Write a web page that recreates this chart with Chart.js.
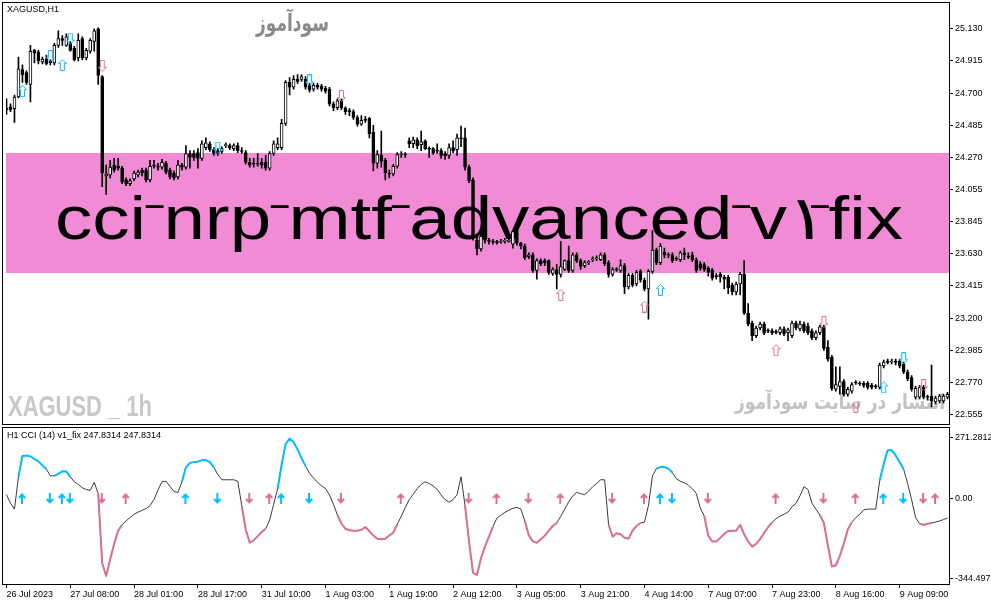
<!DOCTYPE html>
<html><head><meta charset="utf-8">
<script src="https://cdn.jsdelivr.net/npm/chart.js"></script>
<style>
html,body{margin:0;padding:0;background:#fff;width:991px;height:605px;overflow:hidden}
canvas{position:absolute;left:0}
#c1{top:0}
#c2{top:425px}
</style></head><body>
<canvas id="c1" width="991" height="425"></canvas>
<canvas id="c2" width="991" height="180"></canvas>
<script>
// ---------------- DATA ----------------
const opens = [
24.603,24.610,24.597,24.675,24.857,24.837,24.759,24.986,24.974,24.909,
24.928,24.915,24.902,25.019,25.065,25.019,25.032,24.999,24.935,25.065,
24.935,24.980,25.045,25.130,24.811,24.148,24.155,24.220,24.213,24.200,
24.122,24.096,24.129,24.155,24.187,24.187,24.122,24.220,24.213,24.207,
24.233,24.187,24.168,24.142,24.220,24.207,24.298,24.298,24.304,24.265,
24.337,24.363,24.324,24.317,24.311,24.350,24.350,24.330,24.350,24.317,
24.304,24.239,24.233,24.233,24.239,24.239,24.200,24.298,24.337,24.337,
24.499,24.772,24.740,24.792,24.792,24.792,24.753,24.727,24.753,24.746,
24.733,24.727,24.629,24.603,24.655,24.603,24.584,24.577,24.538,24.493,
24.528,24.532,24.441,24.233,24.285,24.252,24.168,24.161,24.213,24.291,
24.292,24.382,24.363,24.389,24.356,24.382,24.330,24.330,24.317,24.317,
24.298,24.285,24.337,24.324,24.402,24.402,24.207,24.122,23.719,23.661,
23.725,23.719,23.712,23.706,23.706,23.712,23.712,23.693,23.784,23.699,
23.680,23.609,23.622,23.518,23.583,23.583,23.583,23.498,23.524,23.492,
23.524,23.583,23.518,23.622,23.583,23.550,23.570,23.589,23.596,23.589,
23.622,23.570,23.492,23.524,23.518,23.550,23.407,23.485,23.427,23.511,
23.453,23.394,23.511,23.654,23.570,23.641,23.622,23.622,23.596,23.589,
23.635,23.609,23.622,23.589,23.563,23.557,23.531,23.518,23.479,23.492,
23.472,23.472,23.420,23.375,23.427,23.492,23.232,23.167,23.082,23.134,
23.160,23.115,23.115,23.108,23.102,23.128,23.102,23.082,23.167,23.128,
23.160,23.147,23.115,23.069,23.102,23.141,23.004,22.939,22.725,22.744,
22.777,22.692,22.712,22.770,22.764,22.764,22.764,22.751,22.744,22.738,
22.881,22.907,22.907,22.907,22.913,22.894,22.841,22.803,22.673,22.673,
22.738,22.673,22.679,22.640,22.647,22.647,22.673];
const highs = [
24.662,24.629,24.688,24.941,24.889,24.850,25.019,24.993,24.986,24.941,
24.954,24.922,25.032,25.117,25.084,25.097,25.045,25.012,25.097,25.077,
24.999,25.065,25.130,25.136,24.818,24.220,24.252,24.265,24.265,24.213,
24.135,24.129,24.181,24.187,24.200,24.200,24.252,24.252,24.233,24.259,
24.246,24.200,24.181,24.252,24.233,24.350,24.317,24.317,24.330,24.382,
24.402,24.376,24.337,24.330,24.343,24.369,24.363,24.363,24.369,24.337,
24.317,24.265,24.265,24.298,24.265,24.285,24.311,24.382,24.402,24.525,
24.785,24.805,24.818,24.824,24.824,24.811,24.766,24.766,24.766,24.759,
24.746,24.740,24.642,24.662,24.662,24.610,24.597,24.590,24.551,24.551,
24.545,24.538,24.486,24.317,24.447,24.265,24.187,24.226,24.304,24.311,
24.304,24.402,24.408,24.402,24.447,24.389,24.343,24.337,24.363,24.330,
24.311,24.363,24.382,24.428,24.480,24.467,24.220,24.135,23.758,23.771,
23.732,23.732,23.725,23.719,23.725,23.732,23.739,23.784,23.790,23.706,
23.693,23.635,23.635,23.596,23.596,23.596,23.589,23.537,23.557,23.712,
23.589,23.680,23.635,23.635,23.596,23.583,23.583,23.609,23.615,23.635,
23.635,23.583,23.537,23.537,23.589,23.563,23.498,23.498,23.518,23.524,
23.466,23.524,23.784,23.667,23.699,23.667,23.635,23.635,23.609,23.647,
23.667,23.635,23.641,23.602,23.576,23.570,23.544,23.531,23.498,23.505,
23.485,23.485,23.433,23.440,23.505,23.583,23.297,23.180,23.147,23.173,
23.173,23.128,23.128,23.121,23.141,23.141,23.134,23.180,23.180,23.180,
23.173,23.167,23.128,23.115,23.154,23.154,23.050,22.952,22.874,22.874,
22.790,22.738,22.770,22.783,22.777,22.777,22.777,22.764,22.757,22.900,
22.920,22.926,22.926,22.926,22.926,22.907,22.854,22.816,22.744,22.751,
22.751,22.686,22.887,22.679,22.692,22.692,22.705];
const lows = [
24.558,24.577,24.506,24.668,24.772,24.759,24.642,24.902,24.896,24.896,
24.889,24.889,24.889,25.006,25.019,25.012,24.980,24.915,24.915,24.922,
24.922,24.967,24.980,24.759,24.077,24.025,24.135,24.174,24.187,24.096,
24.083,24.083,24.116,24.142,24.148,24.109,24.109,24.200,24.187,24.194,
24.161,24.129,24.122,24.129,24.187,24.194,24.200,24.252,24.200,24.252,
24.324,24.311,24.285,24.285,24.298,24.337,24.324,24.317,24.304,24.298,
24.226,24.207,24.207,24.213,24.200,24.187,24.187,24.285,24.324,24.324,
24.486,24.688,24.727,24.766,24.779,24.727,24.707,24.714,24.727,24.714,
24.701,24.616,24.584,24.590,24.590,24.558,24.551,24.525,24.480,24.486,
24.506,24.402,24.181,24.200,24.207,24.122,24.135,24.148,24.200,24.272,
24.272,24.337,24.337,24.330,24.317,24.324,24.272,24.291,24.298,24.265,
24.259,24.265,24.304,24.285,24.343,24.187,24.103,23.719,23.622,23.647,
23.699,23.693,23.693,23.693,23.699,23.699,23.706,23.667,23.687,23.661,
23.589,23.596,23.505,23.459,23.550,23.550,23.492,23.485,23.394,23.472,
23.518,23.505,23.505,23.570,23.524,23.537,23.557,23.576,23.583,23.583,
23.550,23.472,23.479,23.511,23.505,23.362,23.394,23.407,23.414,23.440,
23.381,23.193,23.498,23.557,23.557,23.602,23.602,23.570,23.583,23.576,
23.589,23.596,23.576,23.505,23.518,23.511,23.479,23.453,23.459,23.440,
23.394,23.362,23.355,23.355,23.355,23.225,23.147,23.050,23.069,23.121,
23.089,23.102,23.089,23.095,23.089,23.082,23.050,23.069,23.121,23.115,
23.102,23.089,23.056,23.056,23.089,22.985,22.913,22.718,22.712,22.692,
22.679,22.679,22.699,22.757,22.751,22.738,22.725,22.725,22.731,22.725,
22.867,22.894,22.894,22.887,22.867,22.829,22.783,22.712,22.660,22.660,
22.660,22.653,22.607,22.627,22.634,22.634,22.660];
const closes = [
24.590,24.590,24.675,24.863,24.824,24.772,24.980,24.967,24.915,24.928,
24.896,24.902,25.019,25.065,25.052,25.077,24.986,24.922,25.052,24.935,
24.986,25.052,25.117,24.818,24.168,24.161,24.207,24.187,24.200,24.109,
24.096,24.116,24.168,24.174,24.168,24.122,24.213,24.213,24.207,24.239,
24.174,24.142,24.135,24.220,24.207,24.298,24.272,24.272,24.265,24.363,
24.369,24.324,24.298,24.298,24.330,24.356,24.337,24.350,24.317,24.311,
24.239,24.220,24.226,24.226,24.220,24.200,24.298,24.363,24.363,24.499,
24.772,24.740,24.792,24.779,24.811,24.740,24.720,24.753,24.740,24.727,
24.714,24.629,24.603,24.649,24.603,24.577,24.577,24.538,24.493,24.519,
24.518,24.428,24.233,24.291,24.246,24.168,24.161,24.213,24.291,24.298,
24.288,24.363,24.389,24.350,24.376,24.330,24.326,24.304,24.313,24.285,
24.284,24.337,24.317,24.402,24.395,24.207,24.116,23.745,23.661,23.745,
23.719,23.712,23.706,23.703,23.712,23.716,23.719,23.777,23.699,23.680,
23.602,23.622,23.518,23.583,23.563,23.570,23.505,23.524,23.492,23.544,
23.583,23.518,23.622,23.583,23.544,23.570,23.573,23.592,23.599,23.622,
23.563,23.492,23.524,23.521,23.550,23.407,23.485,23.420,23.505,23.453,
23.394,23.511,23.654,23.570,23.680,23.622,23.619,23.583,23.593,23.635,
23.622,23.606,23.589,23.518,23.531,23.524,23.505,23.466,23.476,23.472,
23.459,23.401,23.375,23.427,23.492,23.232,23.160,23.082,23.134,23.160,
23.102,23.112,23.102,23.105,23.128,23.095,23.121,23.167,23.134,23.160,
23.115,23.102,23.069,23.102,23.141,22.998,22.926,22.731,22.757,22.777,
22.692,22.725,22.757,22.767,22.760,22.751,22.738,22.738,22.741,22.887,
22.907,22.904,22.910,22.904,22.881,22.841,22.796,22.725,22.731,22.738,
22.673,22.670,22.647,22.666,22.679,22.679,22.692];

const cci = [
15,-19,-43,87,171,173,169,159,149,133,
118,91,91,99,109,108,87,67,56,43,
36,32,65,19,-260,-312,-246,-183,-130,-106,
-90,-77,-64,-55,-48,-41,-29,-4,34,67,
69,48,28,24,67,125,143,146,148,154,
154,146,125,96,75,75,75,75,69,-29,
-125,-178,-169,-152,-135,-122,-87,-24,39,135,
218,241,226,197,162,130,101,82,65,51,
40,14,-24,-67,-101,-122,-128,-130,-130,-126,
-115,-132,-149,-162,-164,-162,-149,-139,-104,-72,
-37,-5,17,39,56,67,60,50,37,14,
-5,-15,-5,15,87,-29,-173,-300,-308,-241,
-193,-154,-114,-79,-67,-56,-48,-40,-36,-43,
-91,-149,-173,-178,-164,-150,-130,-111,-99,-72,
-43,-14,10,24,19,15,29,47,60,75,
75,-106,-154,-140,-144,-158,-162,-130,-111,-99,
-96,-29,91,120,126,126,120,104,79,69,
63,53,39,20,-39,-71,-150,-173,-173,-159,
-143,-131,-130,-130,-106,-144,-173,-194,-183,-164,
-139,-116,-96,-82,-71,-64,-55,-34,-20,10,
47,36,-19,-43,-67,-99,-190,-274,-269,-231,
-182,-125,-96,-77,-64,-46,-43,-43,-43,72,
139,194,194,173,146,118,60,-5,-77,-101,
-107,-102,-99,-95,-91,-85,-79];

const blueRanges = [[3,10],[12,16],[44,52],[68,75],[163,167],[219,225]];
const pinkRanges = [[23,29],[59,65],[83,98],[115,122],[130,138],[151,159],[175,192],[204,212],[229,232]];

// signal arrows in the CCI window (drawn on the zero level)
const cciUpBlue = [4,14,45,69,164,220];
const cciDownBlue = [11,16,53,76,167,225];
const cciUpPink = [30,66,99,123,139,160,193,213,233];
const cciDownPink = [24,61,84,116,131,152,176,205,230];

// hollow arrows on the price chart (visible ones)
const topUpBlueIdx = [4,14,164,220];
const topUpBluePrice = [24.714,24.889,23.388,22.738];
const topDownBlueIdx = [11,16,53,76,225];
const topDownBluePrice = [24.948,25.065,24.337,24.785,22.932];
const topDownPinkIdx = [24,84,205,230];
const topDownPinkPrice = [24.883,24.681,23.173,22.751];
const topUpPinkIdx = [139,160,193,213];
const topUpPinkPrice = [23.355,23.277,22.985,22.608];

const priceTicks = [25.130,24.915,24.700,24.485,24.270,24.055,23.845,23.630,23.415,23.200,22.985,22.770,22.555];
const priceTickLabels = ['25.130','24.915','24.700','24.485','24.270','24.055','23.845','23.630','23.415','23.200','22.985','22.770','22.555'];
const dateTickIdx = [0,16,32,48,64,80,96,112,128,144,160,176,192,208,224];
const dateLabels = ['26 Jul 2023','27 Jul 08:00','28 Jul 01:00','28 Jul 17:00','31 Jul 10:00','1 Aug 03:00','1 Aug 19:00','2 Aug 12:00','3 Aug 05:00','3 Aug 21:00','4 Aug 14:00','7 Aug 07:00','7 Aug 23:00','8 Aug 16:00','9 Aug 09:00'];
const cciAxisValues = [271.2812, 0, -344.497];
const cciAxisLabels = ['271.2812','0.00','-344.497'];

const bandTop = 24.304, bandBottom = 23.498;
const bigTitle = 'cci¯nrp¯mtf¯advanced¯v١¯fix';
const chartTitle = 'XAGUSD,H1';
const cciTitle = 'H1 CCI (14) v1_fix 247.8314 247.8314';
const wmTop = 'سودآموز';
const wmLeft = 'XAGUSD _ 1h';
const wmRight = 'انتشار در سایت سودآموز';

// ---------------- SETUP ----------------
const xMin = -0.125, xMax = 236.375;
const priceMin = 22.536, priceMax = 25.2725;
const cciMin = -344.497, cciMax = 271.2812;
const BLUE = '#00BFFF', PINK = '#DB7093';
const AXFONT = '"Liberation Sans", Arial, sans-serif';

Chart.defaults.font.family = AXFONT;
Chart.defaults.font.size = 9;
Chart.defaults.color = '#000';

function hollowArrow(color, up) {
  const c = document.createElement('canvas'); c.width = 9; c.height = 12;
  const g = c.getContext('2d');
  g.strokeStyle = color; g.lineWidth = 1;
  const pts = [[4.5,0.5],[8.5,4.5],[6.5,4.5],[6.5,11.5],[2.5,11.5],[2.5,4.5],[0.5,4.5]];
  g.beginPath();
  pts.forEach(([x,y],k) => { const yy = up ? y : 12 - y; if (k) g.lineTo(x,yy); else g.moveTo(x,yy); });
  g.closePath(); g.stroke();
  return c;
}
function solidArrow(color, up) {
  const c = document.createElement('canvas'); c.width = 9; c.height = 11;
  const g = c.getContext('2d');
  g.strokeStyle = color; g.lineWidth = 2; g.lineCap = 'butt';
  const f = y => up ? y : 11 - y;
  g.beginPath();
  g.moveTo(4, f(1.5)); g.lineTo(4, f(11));
  g.moveTo(0.8, f(5)); g.lineTo(4, f(1.5)); g.lineTo(7.2, f(5));
  g.stroke();
  return c;
}
function pointSet(idx, vals, img) {
  return { type: 'line', data: idx.map((v,k) => ({x: v, y: vals[k]})), showLine: false,
           pointStyle: img, pointRadius: 5, order: 1 };
}
function fitText(ctx, text, x, y, w, font, color) {
  ctx.save();
  ctx.font = font;
  const m = ctx.measureText(text).width;
  ctx.translate(x, y); ctx.scale(w / m, 1);
  ctx.fillStyle = color; ctx.textAlign = 'left'; ctx.textBaseline = 'alphabetic';
  ctx.fillText(text, 0, 0);
  ctx.restore();
}
function drawBigText(ctx, text, x0, baseline, targetW, size) {
  ctx.save();
  ctx.font = size + 'px "Liberation Sans", Arial, sans-serif';
  ctx.fillStyle = '#000'; ctx.textBaseline = 'alphabetic'; ctx.textAlign = 'left';
  const chars = Array.from(text);
  const adv = ch => ch === '¯' ? 0.42 : (ch === '١' ? 0.6 : 1);
  const widths = chars.map(ch => ctx.measureText(ch).width * adv(ch));
  const total = widths.reduce((s, w) => s + w, 0);
  const k = targetW / total;
  let x = x0;
  chars.forEach((ch, i) => {
    ctx.save();
    ctx.translate(x, baseline + (ch === '¯' ? size * 0.2 : 0));
    ctx.scale(k * (ch === '¯' ? 0.42 : 1), 1);
    ctx.fillText(ch, 0, 0);
    ctx.restore();
    x += widths[i] * k;
  });
  ctx.restore();
}

const topDecor = {
  id: 'topDecor',
  beforeDatasetsDraw(chart) {
    const {ctx, chartArea: a, scales: {y}} = chart;
    ctx.save();
    const yt = Math.round(y.getPixelForValue(bandTop));
    const yb = Math.round(y.getPixelForValue(bandBottom));
    ctx.fillStyle = '#F28BD6';
    ctx.fillRect(a.left, yt, a.right - a.left, yb - yt);
    drawBigText(ctx, bigTitle, 55, 239, 848, 61);
    fitText(ctx, wmTop, 256, 31, 73, 'bold 24px "DejaVu Sans", sans-serif', '#8a8a8a');
    fitText(ctx, wmRight, 735, 409, 210, 'bold 21px "DejaVu Sans", sans-serif', '#c2c2c2');
    fitText(ctx, wmLeft, 8, 416, 144, 'bold 30px "Liberation Sans", Arial, sans-serif', '#c8c8c8');
    ctx.restore();
  },
  afterDraw(chart) {
    const {ctx} = chart;
    ctx.save();
    ctx.strokeStyle = '#000'; ctx.lineWidth = 1;
    ctx.strokeRect(2.5, 2.5, 947, 422);
    ctx.font = '9px ' + AXFONT; ctx.fillStyle = '#000'; ctx.textBaseline = 'middle';
    ctx.fillText(chartTitle, 7, 10);
    ctx.restore();
  }
};

const barIdx = opens.map((_, i) => i);
new Chart(document.getElementById('c1'), {
  type: 'bar',
  data: { datasets: [
    { type: 'bar', data: barIdx.map(i => ({x: i, y: [lows[i], highs[i]]})), backgroundColor: '#000',
      borderWidth: 0, barThickness: 1, grouped: false, order: 3 },
    { type: 'bar', data: barIdx.map(i => ({x: i, y: [opens[i], closes[i]]})),
      backgroundColor: barIdx.map(i => closes[i] >= opens[i] ? '#fff' : '#000'),
      borderColor: '#000', borderWidth: 1, borderSkipped: false, barThickness: 3, minBarLength: 1,
      grouped: false, order: 2 },
    pointSet(topUpBlueIdx, topUpBluePrice, hollowArrow(BLUE, true)),
    pointSet(topDownBlueIdx, topDownBluePrice, hollowArrow(BLUE, false)),
    pointSet(topDownPinkIdx, topDownPinkPrice, hollowArrow(PINK, false)),
    pointSet(topUpPinkIdx, topUpPinkPrice, hollowArrow(PINK, true))
  ]},
  options: {
    responsive: false, animation: false, events: [],
    layout: { padding: {left: 3, top: 3, right: 0, bottom: 1} },
    plugins: { legend: {display: false}, tooltip: {enabled: false} },
    scales: {
      x: { type: 'linear', min: xMin, max: xMax, display: false, offset: false, grid: {offset: false} },
      y: { position: 'right', min: priceMin, max: priceMax,
           afterBuildTicks: s => { s.ticks = priceTicks.map(v => ({value: v})); },
           afterFit: s => { s.width = 42; },
           ticks: { callback: (v, i) => priceTickLabels[i], padding: 2, autoSkip: false, color: '#000', font: {size: 9} },
           grid: { drawOnChartArea: false, drawTicks: true, tickLength: 4, color: '#000' },
           border: { display: false } }
    }
  },
  plugins: [topDecor]
});

// ---------------- CCI window ----------------
function inRanges(i, ranges) { return ranges.some(([a, b]) => i >= a && i <= b); }
const cciPts = cci.map((v, i) => ({x: i, y: v}));
const bluePts = cci.map((v, i) => ({x: i, y: inRanges(i, blueRanges) ? v : null}));
const pinkPts = cci.map((v, i) => ({x: i, y: inRanges(i, pinkRanges) ? v : null}));
const zeros = a => a.map(() => 0);

const cciDecor = {
  id: 'cciDecor',
  afterDraw(chart) {
    const {ctx, scales: {y}, chartArea: a} = chart;
    ctx.save();
    ctx.strokeStyle = '#000'; ctx.lineWidth = 1;
    ctx.strokeRect(2.5, 2.5, 947, 157);
    ctx.fillStyle = '#000'; ctx.font = '9px ' + AXFONT; ctx.textBaseline = 'middle';
    ctx.fillText(cciTitle, 7, 11);
    const shift = [6, 0, -6];
    cciAxisValues.forEach((v, k) => {
      const py = Math.round(y.getPixelForValue(v) + shift[k]);
      ctx.beginPath(); ctx.moveTo(a.right, py + 0.5); ctx.lineTo(a.right + 4, py + 0.5); ctx.stroke();
      ctx.fillText(cciAxisLabels[k], a.right + 6, py + 0.5);
    });
    ctx.restore();
  }
};

new Chart(document.getElementById('c2'), {
  type: 'line',
  data: { datasets: [
    { data: cciPts, borderColor: '#3a3a3a', borderWidth: 1, pointRadius: 0, order: 5, borderJoinStyle: 'round' },
    { data: bluePts, borderColor: BLUE, borderWidth: 2, pointRadius: 0, order: 4, borderJoinStyle: 'round' },
    { data: pinkPts, borderColor: PINK, borderWidth: 2, pointRadius: 0, order: 4, borderJoinStyle: 'round' },
    pointSet(cciUpBlue, zeros(cciUpBlue), solidArrow(BLUE, true)),
    pointSet(cciDownBlue, zeros(cciDownBlue), solidArrow(BLUE, false)),
    pointSet(cciUpPink, zeros(cciUpPink), solidArrow(PINK, true)),
    pointSet(cciDownPink, zeros(cciDownPink), solidArrow(PINK, false))
  ]},
  options: {
    responsive: false, animation: false, events: [],
    layout: { padding: {left: 3, top: 3, right: 0, bottom: 0} },
    plugins: { legend: {display: false}, tooltip: {enabled: false} },
    scales: {
      x: { type: 'linear', min: xMin, max: xMax, position: 'bottom', offset: false,
           afterBuildTicks: s => { s.ticks = dateTickIdx.map(v => ({value: v})); },
           afterFit: s => { s.height = 21; },
           ticks: { callback: (v, i) => dateLabels[i], align: 'start', maxRotation: 0, minRotation: 0,
                    autoSkip: false, padding: 1, color: '#000', font: {size: 9} },
           grid: { drawOnChartArea: false, drawTicks: true, tickLength: 4, color: '#000', offset: false },
           border: { display: false } },
      y: { position: 'right', min: cciMin, max: cciMax,
           afterFit: s => { s.width = 42; },
           ticks: { display: false }, grid: { display: false }, border: { display: false } }
    }
  },
  plugins: [cciDecor]
});
</script>
</body></html>
